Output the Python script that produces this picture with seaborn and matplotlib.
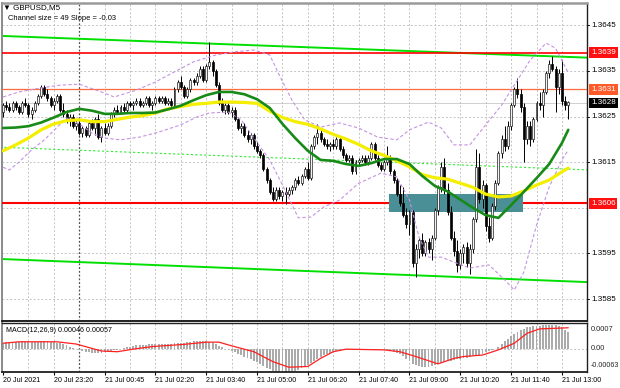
import numpy as np
import matplotlib
matplotlib.use("Agg")
import matplotlib.pyplot as plt
import seaborn as sns
from matplotlib.patches import Rectangle

sns.set_theme(style="white")
plt.rcParams['font.family'] = ['Liberation Sans', 'DejaVu Sans']

# ---------------- data ----------------
bar_open = [
    1.3626, 1.36275, 1.3627, 1.36265, 1.3628, 1.3627, 1.3626, 1.3628, 1.36275, 1.36255,
    1.36265, 1.3628, 1.36295, 1.36315, 1.363, 1.3629, 1.36275, 1.36285, 1.36295, 1.36265,
    1.36255, 1.3624, 1.3625, 1.3623, 1.36235, 1.36215, 1.36225, 1.3621, 1.36235, 1.36225,
    1.36245, 1.36205, 1.36225, 1.36215, 1.3623, 1.36255, 1.36265, 1.3626, 1.3627, 1.36265,
    1.3628, 1.36275, 1.3628, 1.36285, 1.36275, 1.3628, 1.3629, 1.36275, 1.3628, 1.3629,
    1.36285, 1.3629, 1.3628, 1.36285, 1.36275, 1.3631, 1.36325, 1.36315, 1.36295, 1.3631,
    1.3633, 1.36325, 1.3634, 1.36355, 1.3633, 1.3636, 1.3637, 1.3635, 1.3632, 1.3628,
    1.36265, 1.36275, 1.3626, 1.36265, 1.36245, 1.36225, 1.3623, 1.3621, 1.362, 1.3621,
    1.36185, 1.36175, 1.36165, 1.36135, 1.3611, 1.36085, 1.3607, 1.3609, 1.36075, 1.36085,
    1.3608, 1.3609, 1.36095, 1.3611, 1.36105, 1.3612, 1.36135, 1.36115, 1.36185, 1.36205,
    1.36215, 1.362, 1.3619, 1.36185, 1.3619, 1.36185, 1.362, 1.3618, 1.36165, 1.36155,
    1.3616, 1.3613, 1.3615, 1.36155, 1.3616, 1.3615, 1.3616, 1.3619, 1.3616, 1.36145,
    1.36135, 1.3615, 1.3616, 1.3613, 1.3611, 1.3608, 1.3606, 1.36035, 1.36015, 1.3604,
    1.3593, 1.3596, 1.3598, 1.3595, 1.35975, 1.3596, 1.35985, 1.36045, 1.36095, 1.3614,
    1.3609, 1.3604, 1.35985, 1.35955, 1.35925, 1.3595, 1.35965, 1.3593, 1.3596, 1.36025,
    1.3614, 1.3607, 1.361, 1.3601, 1.35985, 1.36055, 1.36105, 1.3617, 1.362, 1.36185,
    1.3623, 1.36275, 1.3631, 1.363, 1.3627, 1.362, 1.3623, 1.362, 1.36245, 1.3628,
    1.36275, 1.36305, 1.36345, 1.36365, 1.36355, 1.36315, 1.36345, 1.36285, 1.36275]
bar_close = [
    1.36275, 1.3627, 1.36265, 1.3628, 1.3627, 1.3626, 1.3628, 1.36275, 1.36255, 1.36265,
    1.3628, 1.36295, 1.36315, 1.363, 1.3629, 1.36275, 1.36285, 1.36295, 1.36265, 1.36255,
    1.3624, 1.3625, 1.3623, 1.36235, 1.36215, 1.36225, 1.3621, 1.36235, 1.36225, 1.36245,
    1.36205, 1.36225, 1.36215, 1.3623, 1.36255, 1.36265, 1.3626, 1.3627, 1.36265, 1.3628,
    1.36275, 1.3628, 1.36285, 1.36275, 1.3628, 1.3629, 1.36275, 1.3628, 1.3629, 1.36285,
    1.3629, 1.3628, 1.36285, 1.36275, 1.3631, 1.36325, 1.36315, 1.36295, 1.3631, 1.3633,
    1.36325, 1.3634, 1.36355, 1.3633, 1.3636, 1.3637, 1.3635, 1.3632, 1.3628, 1.36265,
    1.36275, 1.3626, 1.36265, 1.36245, 1.36225, 1.3623, 1.3621, 1.362, 1.3621, 1.36185,
    1.36175, 1.36165, 1.36135, 1.3611, 1.36085, 1.3607, 1.3609, 1.36075, 1.36085, 1.3608,
    1.3609, 1.36095, 1.3611, 1.36105, 1.3612, 1.36135, 1.36115, 1.36185, 1.36205, 1.36215,
    1.362, 1.3619, 1.36185, 1.3619, 1.36185, 1.362, 1.3618, 1.36165, 1.36155, 1.3616,
    1.3613, 1.3615, 1.36155, 1.3616, 1.3615, 1.3616, 1.3619, 1.3616, 1.36145, 1.36135,
    1.3615, 1.3616, 1.3613, 1.3611, 1.3608, 1.3606, 1.36035, 1.36015, 1.3604, 1.3593,
    1.3596, 1.3598, 1.3595, 1.35975, 1.3596, 1.35985, 1.36045, 1.36095, 1.3614, 1.3609,
    1.3604, 1.35985, 1.35955, 1.35925, 1.3595, 1.35965, 1.3593, 1.3596, 1.36025, 1.3614,
    1.3607, 1.361, 1.3601, 1.35985, 1.36055, 1.36105, 1.3617, 1.362, 1.36185, 1.3623,
    1.36275, 1.3631, 1.363, 1.3627, 1.362, 1.3623, 1.362, 1.36245, 1.3628, 1.36275,
    1.36305, 1.36345, 1.36365, 1.36355, 1.36315, 1.36345, 1.36285, 1.36275, 1.36281]
bar_high = [
    1.3628, 1.36285, 1.3628, 1.36285, 1.36285, 1.36275, 1.36285, 1.3629, 1.3628, 1.3627,
    1.36285, 1.363, 1.3632, 1.3632, 1.3631, 1.36295, 1.3629, 1.363, 1.363, 1.3628,
    1.36265, 1.36255, 1.36255, 1.36245, 1.3624, 1.3623, 1.3623, 1.3624, 1.36245, 1.3625,
    1.36255, 1.3623, 1.36235, 1.36235, 1.3626, 1.3627, 1.36275, 1.36275, 1.3628, 1.36285,
    1.36285, 1.36285, 1.3629, 1.3629, 1.36285, 1.36295, 1.36295, 1.36285, 1.36295, 1.36295,
    1.36295, 1.36295, 1.3629, 1.3629, 1.36315, 1.3633, 1.3634, 1.3632, 1.36315, 1.36335,
    1.36335, 1.36345, 1.3636, 1.3636, 1.36365, 1.36414, 1.36375, 1.36355, 1.36325, 1.3629,
    1.3628, 1.3628, 1.3627, 1.3627, 1.3625, 1.36235, 1.36235, 1.3622, 1.36215, 1.36215,
    1.36195, 1.3618, 1.3617, 1.3614, 1.36115, 1.36095, 1.36095, 1.36095, 1.3609, 1.36095,
    1.36095, 1.361, 1.36115, 1.3612, 1.36125, 1.3614, 1.3615, 1.3619, 1.3621, 1.36233,
    1.3622, 1.36205, 1.362, 1.36195, 1.362, 1.36205, 1.36205, 1.36185, 1.3617, 1.36165,
    1.36165, 1.36155, 1.3616, 1.36165, 1.36165, 1.36165, 1.36195, 1.36195, 1.36165, 1.3615,
    1.36155, 1.36185, 1.36165, 1.36135, 1.36115, 1.361, 1.36095, 1.3605, 1.36045, 1.36045,
    1.3597, 1.35985, 1.35995, 1.3598, 1.35985, 1.3599, 1.3605, 1.361, 1.3615, 1.3616,
    1.36105, 1.36055, 1.36, 1.3598, 1.3596, 1.3597, 1.35975, 1.3597, 1.3603, 1.3618,
    1.3617, 1.3611, 1.36105, 1.3603, 1.3606, 1.3611, 1.36175, 1.3621, 1.3623, 1.3624,
    1.3628, 1.36315, 1.36335, 1.3631, 1.3628, 1.3624, 1.3624, 1.3625, 1.36285, 1.36305,
    1.3631, 1.3635, 1.36375, 1.36383, 1.3636, 1.36355, 1.36375, 1.36295, 1.36285]
bar_low = [
    1.3625, 1.36265, 1.3626, 1.3626, 1.36265, 1.36255, 1.36255, 1.3627, 1.3625, 1.36245,
    1.3626, 1.36275, 1.3629, 1.36295, 1.36285, 1.3627, 1.36265, 1.3628, 1.3626, 1.3625,
    1.36235, 1.3623, 1.36225, 1.3622, 1.3621, 1.36205, 1.36205, 1.36205, 1.3622, 1.3621,
    1.362, 1.36195, 1.3621, 1.3621, 1.36225, 1.3625, 1.36255, 1.36255, 1.3626, 1.3626,
    1.3627, 1.36265, 1.36275, 1.3627, 1.3627, 1.36275, 1.3627, 1.36265, 1.36275, 1.3628,
    1.3628, 1.36275, 1.36275, 1.3627, 1.3627, 1.36305, 1.3631, 1.3629, 1.3629, 1.36305,
    1.3632, 1.3632, 1.36335, 1.36325, 1.36325, 1.36355, 1.3634, 1.36315, 1.36275, 1.3626,
    1.36255, 1.36255, 1.3625, 1.3624, 1.3622, 1.36215, 1.36205, 1.36195, 1.3619, 1.3618,
    1.3617, 1.3616, 1.3613, 1.36105, 1.3608, 1.36065, 1.36065, 1.3607, 1.36065, 1.36059,
    1.36075, 1.3608, 1.3609, 1.361, 1.361, 1.36115, 1.3611, 1.3611, 1.3618, 1.3619,
    1.36195, 1.36185, 1.3618, 1.36175, 1.3618, 1.3618, 1.36175, 1.3616, 1.3615, 1.3615,
    1.36125, 1.36125, 1.36145, 1.3615, 1.36145, 1.36145, 1.36155, 1.36155, 1.3614, 1.3613,
    1.3613, 1.36145, 1.36125, 1.36105, 1.36075, 1.36055, 1.3603, 1.36005, 1.3599, 1.3592,
    1.35899, 1.3594, 1.35945, 1.35945, 1.3595, 1.35935, 1.3598, 1.36035, 1.36085, 1.3608,
    1.36035, 1.3598, 1.35945, 1.3591, 1.35915, 1.3593, 1.3592, 1.35905, 1.3595, 1.3602,
    1.3606, 1.3605, 1.36, 1.35975, 1.3598, 1.36045, 1.361, 1.3616, 1.36175, 1.3618,
    1.3622, 1.3627, 1.3629, 1.3626, 1.3615, 1.3619, 1.36185, 1.36195, 1.3624, 1.36265,
    1.3625, 1.363, 1.36335, 1.3635, 1.3626, 1.363, 1.36275, 1.36265, 1.36245]

ma_idx = [0, 4, 8, 12, 16, 20, 24, 28, 32, 36, 40, 44, 48, 52, 56, 60, 64, 68, 72, 76,
          80, 84, 88, 92, 96, 100, 104, 108, 112, 116, 120, 124, 128, 132, 136, 140, 144,
          148, 152, 156, 160, 164, 168, 172, 176, 178]
ma_green = [1.36225, 1.36226, 1.36229, 1.36237, 1.36248, 1.36260, 1.36267, 1.36263, 1.36256,
            1.36256, 1.36258, 1.36258, 1.36259, 1.36266, 1.36274, 1.36286, 1.36297, 1.36304,
            1.36304, 1.36299, 1.36288, 1.36269, 1.36234, 1.36203, 1.36175, 1.36155, 1.36153,
            1.36146, 1.36142, 1.36148, 1.36157, 1.36157, 1.36146, 1.36120, 1.36098, 1.36086,
            1.36068, 1.36050, 1.36034, 1.36028, 1.36056, 1.36085, 1.36115, 1.36146, 1.36192,
            1.36221]
ma_yellow = [1.36175, 1.36188, 1.36203, 1.36221, 1.36234, 1.36241, 1.36243, 1.36239, 1.36239,
             1.36244, 1.36249, 1.36252, 1.36258, 1.36267, 1.36272, 1.36277, 1.36279, 1.36282,
             1.36282, 1.36281, 1.36279, 1.36262, 1.36248, 1.36239, 1.36233, 1.36223, 1.36211,
             1.36201, 1.36189, 1.36175, 1.36165, 1.36153, 1.36140, 1.36123, 1.36116, 1.36113,
             1.36104, 1.36095, 1.36080, 1.36074, 1.36076, 1.36087, 1.36100, 1.36111, 1.36129,
             1.36137]

band_up_idx = [0, 5, 12, 18, 24, 31, 35, 42, 48, 54, 60, 67, 73, 79, 84, 87, 91, 95, 100,
               106, 112, 118, 124, 128, 134, 138, 142, 147, 152, 157, 161, 166, 171, 174, 178]
band_up = [1.36293, 1.36304, 1.36313, 1.36319, 1.36321, 1.36304, 1.36293, 1.36308, 1.36326,
           1.36348, 1.36370, 1.36385, 1.36392, 1.36396, 1.36385, 1.36341, 1.36286, 1.36243,
           1.36227, 1.36236, 1.36225, 1.36205, 1.36199, 1.36221, 1.36238, 1.36225, 1.36188,
           1.36188, 1.36232, 1.36275, 1.36319, 1.36374, 1.36411, 1.36400, 1.36346]
band_lo_idx = [0, 2, 5, 9, 13, 20, 24, 28, 32, 37, 43, 49, 56, 61, 65, 71, 75, 79, 84, 88,
               93, 97, 101, 106, 112, 119, 124, 128, 131, 134, 138, 142, 147, 153, 158, 161,
               164, 168, 172, 176, 178]
band_lo = [1.36139, 1.36133, 1.36150, 1.36177, 1.36199, 1.36247, 1.36234, 1.36214, 1.36203,
           1.36199, 1.36205, 1.36216, 1.36232, 1.36249, 1.36258, 1.36260, 1.36243, 1.36203,
           1.36155, 1.36100, 1.36028, 1.36030, 1.36052, 1.36067, 1.36104, 1.36126, 1.36118,
           1.36067, 1.35986, 1.35942, 1.35942, 1.35931, 1.35918, 1.35925, 1.35892, 1.35870,
           1.35909, 1.36012, 1.36096, 1.36155, 1.36177]

channel_idx = [-1, 185]
channel_upper = [1.36427, 1.36379]
channel_mid = [1.36183, 1.36133]
channel_lower = [1.35938, 1.35887]

level_prices = [1.3639, 1.3631, 1.3606]
bid_price = 1.3628
zone_idx = [121.6, 163.8]
zone_price = [1.36041, 1.36080]

macd_hist = [
    0.00017, 0.00018, 0.00018, 0.00019, 0.00019, 0.00019, 0.00020, 0.00020, 0.00019, 0.00019,
    0.00019, 0.00019, 0.00020, 0.00020, 0.00020, 0.00019, 0.00018, 0.00017,
    0.00015, 0.00012, 0.00009, 0.00006, 0.00003, 0.00000,
    -0.00003, -0.00006, -0.00008, -0.00010, -0.00011, -0.00012, -0.00012, -0.00011, -0.00010,
    -0.00008, -0.00006, -0.00004, -0.00002, 0.00000,
    0.00002, 0.00004, 0.00006, 0.00008, 0.00009, 0.00010, 0.00011, 0.00011, 0.00012, 0.00012,
    0.00012, 0.00013, 0.00013, 0.00014, 0.00014, 0.00014, 0.00015, 0.00016, 0.00016, 0.00017,
    0.00018, 0.00019, 0.00020, 0.00021, 0.00022, 0.00022, 0.00021, 0.00019, 0.00016, 0.00012,
    0.00008, 0.00004, 0.00000, -0.00003, -0.00006,
    -0.00009, -0.00013, -0.00017, -0.00021, -0.00025, -0.00029, -0.00033, -0.00037, -0.00041,
    -0.00046, -0.00051, -0.00056, -0.00060, -0.00063, -0.00064, -0.00065, -0.00065, -0.00064,
    -0.00062, -0.00060,
    -0.00057, -0.00053, -0.00049, -0.00044, -0.00039, -0.00033, -0.00027, -0.00022,
    -0.00018, -0.00015, -0.00012, -0.00009, -0.00007, -0.00005, -0.00004,
    -0.00003, -0.00002, -0.00002, -0.00003, -0.00002, -0.00001, -0.00001, -0.00002, -0.00001,
    -0.00002, -0.00003, -0.00003, -0.00004,
    -0.00004, -0.00006, -0.00008, -0.00011, -0.00015, -0.00020,
    -0.00027, -0.00034, -0.00040, -0.00045, -0.00048, -0.00050, -0.00050, -0.00049, -0.00047,
    -0.00044, -0.00041,
    -0.00038, -0.00036, -0.00034, -0.00032, -0.00030, -0.00029, -0.00027, -0.00026, -0.00024,
    -0.00022,
    -0.00020, -0.00018, -0.00016, -0.00013, -0.00010, -0.00007, -0.00004,
    0.00000, 0.00006, 0.00013, 0.00020, 0.00027, 0.00034,
    0.00040, 0.00046, 0.00051, 0.00055, 0.00058, 0.00060,
    0.00061, 0.00062, 0.00063, 0.00064, 0.00065, 0.00065, 0.00065, 0.00064, 0.00062,
    0.00058, 0.00052, 0.00046]
signal_idx = [0, 5, 17, 23, 31, 36, 41, 47, 57, 64, 68, 72, 79, 85, 90, 96, 100, 104, 108,
              120, 125, 130, 137, 142, 145, 151, 156, 161, 165, 169, 178]
signal_val = [0.00015, 0.00019, 0.00019, 0.00013, -0.00006, -0.00008, -0.00001, 0.00006,
              0.00012, 0.00018, 0.00018, 0.00008, -0.00008, -0.00035, -0.00050, -0.00048,
              -0.00026, -0.00008, -0.00001, -0.00003, -0.00008, -0.00021, -0.00041, -0.00026,
              -0.00021, -0.00017, -0.00003, 0.00015, 0.00042, 0.00054, 0.00057]

time_idx = [0, 16, 32, 48, 64, 80, 96, 112, 128, 144, 160, 176]
time_labels = ["20 Jul 2021", "20 Jul 23:20", "21 Jul 00:45", "21 Jul 02:20", "21 Jul 03:40",
               "21 Jul 05:00", "21 Jul 06:20", "21 Jul 07:40", "21 Jul 09:00", "21 Jul 10:20",
               "21 Jul 11:40", "21 Jul 13:00"]
price_ticks = [1.3645, 1.3635, 1.3625, 1.3615, 1.3595, 1.3585]
grid_prices = [1.3585, 1.3595, 1.3605, 1.3615, 1.3625, 1.3635, 1.3645]
boxed_labels = [(1.3639, '#ff1010'), (1.3631, '#ff5a2a'), (1.3628, '#000000'), (1.3606, '#ff1010')]

# ---------------- figure ----------------
W, H = 620, 388
fig = plt.figure(figsize=(6.2, 3.88), dpi=100)
fig.patch.set_facecolor('white')
ax = fig.add_axes([2 / W, (H - 321) / H, 585 / W, 318 / H])
ax2 = fig.add_axes([2 / W, (H - 372) / H, 585 / W, 49 / H])

XL = (-0.32, 183.9)
FS = 5.8      # price scale
FS_T = 5.1    # time scale / MACD labels
for a in (ax, ax2):
    a.set_facecolor('white')
    a.set_xlim(*XL)
ax.set_ylim(1.35802, 1.36499)
ax2.set_ylim(-0.00063, 0.0007)

grid_kw = dict(color='#c4c4c4', lw=0.7, ls=(0, (2, 2)), zorder=0.5)
vgrid = [8 * k for k in range(1, 23) if 8 * k != 24]
for a in (ax, ax2):
    for g in vgrid:
        a.axvline(g, **grid_kw)
    a.axvline(24, color='#505050', lw=0.9, ls=(0, (1.5, 1.5)), zorder=0.6)
for gp in grid_prices:
    ax.axhline(gp, **grid_kw)
ax2.axhline(0, **grid_kw)

# channel lines
sns.lineplot(x=channel_idx, y=channel_upper, ax=ax, color='#00e000', lw=1.4, zorder=2)
sns.lineplot(x=channel_idx, y=channel_lower, ax=ax, color='#00e000', lw=1.4, zorder=2)
ax.plot(channel_idx, channel_mid, color='#33e833', lw=0.8, ls=(0, (2, 2)), zorder=2)

# levels
ax.axhline(level_prices[0], color='#ff0000', lw=1.2, zorder=2.6)
ax.axhline(level_prices[1], color='#ff6a3d', lw=0.9, zorder=2.6)
ax.axhline(level_prices[2], color='#ff0000', lw=1.5, zorder=2.6)
ax.axhline(bid_price, color='#bcbcbc', lw=0.5, zorder=2.5)

ax.add_patch(Rectangle((zone_idx[0], zone_price[0]), zone_idx[1] - zone_idx[0],
                       zone_price[1] - zone_price[0], facecolor='#4a8e96', edgecolor='none',
                       zorder=3))

# candles
o = np.array(bar_open); c = np.array(bar_close)
hi = np.array(bar_high); lo = np.array(bar_low)
idx = np.arange(len(c))
up = c >= o
ax.vlines(idx, lo, hi, color='black', lw=0.7, zorder=4)
ax.bar(idx[up], (c - o)[up], bottom=o[up], width=0.62, color='#f2f2f2', edgecolor='#202020',
       linewidth=0.5, zorder=5)
ax.bar(idx[~up], (c - o)[~up], bottom=o[~up], width=0.62, color='black', edgecolor='black',
       linewidth=0.5, zorder=5)

# bands and moving averages
ax.plot(band_up_idx, band_up, color='#c592e3', lw=0.8, ls=(0, (3, 2)), zorder=5.5)
ax.plot(band_lo_idx, band_lo, color='#c592e3', lw=0.8, ls=(0, (3, 2)), zorder=5.5)
sns.lineplot(x=ma_idx, y=ma_yellow, ax=ax, color='#f4ee00', lw=2.3, zorder=6)
sns.lineplot(x=ma_idx, y=ma_green, ax=ax, color='#178a17', lw=1.9, zorder=6.5)

# MACD
ax2.bar(np.arange(len(macd_hist)), macd_hist, width=0.6, color='#ababab', linewidth=0,
        zorder=2)
sns.lineplot(x=signal_idx, y=signal_val, ax=ax2, color='#ff2020', lw=0.9, zorder=3)

# axes styling
for a in (ax, ax2):
    a.set_xlabel(''); a.set_ylabel('')
    a.tick_params(axis='y', left=False, right=False, labelleft=False, labelright=False)
ax.tick_params(axis='x', bottom=False, labelbottom=False)
ax.spines['top'].set_color('#9a9a9a'); ax.spines['top'].set_linewidth(1.8)
ax.spines['left'].set_color('#8a8a8a'); ax.spines['left'].set_linewidth(1.4)
ax.spines['right'].set_color('#202020'); ax.spines['right'].set_linewidth(1.0)
ax.spines['bottom'].set_color('#202020'); ax.spines['bottom'].set_linewidth(1.4)
for s in ('top', 'right', 'bottom'):
    ax2.spines[s].set_color('#202020'); ax2.spines[s].set_linewidth(1.0)
ax2.spines['left'].set_color('#8a8a8a'); ax2.spines['left'].set_linewidth(1.4)
ax2.spines['bottom'].set_linewidth(1.3)

ax2.set_xticks(time_idx)
ax2.set_xticklabels(time_labels, fontsize=FS_T, ha='left')
ax2.tick_params(axis='x', bottom=True, length=2.5, width=0.8, pad=1.4, color='black',
                labelcolor='black', direction='out')

# right price labels
ytr = ax.get_yaxis_transform()
for p in price_ticks:
    ax.text(1.007, p, f"{p:.4f}", transform=ytr, fontsize=FS, va='center', ha='left',
            color='black', clip_on=False)
    ax.plot([1.0, 1.004], [p, p], transform=ytr, color='black', lw=0.7, clip_on=False)
for p, col in boxed_labels:
    ax.text(1.007, p, f"{p:.4f}", transform=ytr, fontsize=FS, va='center', ha='left',
            color='white', clip_on=False, zorder=10,
            bbox=dict(boxstyle='square,pad=0.22', fc=col, ec='none'))

ytr2 = ax2.get_yaxis_transform()
ax2.text(1.007, 0.875, "0.0007", transform=ax2.transAxes, fontsize=FS_T + 0.2, va='center',
         ha='left')
ax2.text(1.007, 0.0, "0.00", transform=ytr2, fontsize=FS_T + 0.2, va='center', ha='left')
ax2.text(1.006, 0.13, "-0.00063", transform=ax2.transAxes, fontsize=FS_T, va='center',
         ha='left')

# header texts
fig.text(3 / W, 1 - 7.5 / H, "\u25bc GBPUSD,M5", fontsize=FS, va='center', ha='left',
         color='black', family=['Liberation Sans', 'DejaVu Sans'])
fig.text(8 / W, 1 - 18.5 / H, "Channel size = 49 Slope = -0.03", fontsize=5.45, va='center',
         ha='left', color='black')
ax2.text(4 / 585, 0.84, "MACD(12,26,9) 0.00046 0.00057", transform=ax2.transAxes,
         fontsize=FS_T, va='center', ha='left', color='black')

fig.savefig("out.png", dpi=100, facecolor='white')
